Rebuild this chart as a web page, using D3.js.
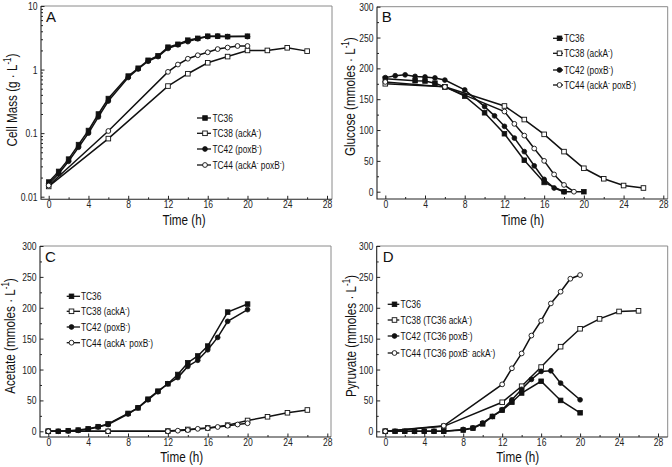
<!DOCTYPE html>
<html><head><meta charset="utf-8">
<script src="https://cdn.jsdelivr.net/npm/d3@7"></script>
<style>body{margin:0;background:#fff}svg{display:block;font-family:"Liberation Sans",Arial,Helvetica,sans-serif}</style>
</head><body><svg id="c" width="672" height="467"></svg>
<script>
// ---------- tick labels ----------
const xTickValues = [0,4,8,12,16,20,24,28];
const logTickValues = [0.01,0.1,1,10];
const logTickLabels = ["0.01","0.1","1","10"];
const linTickValues = [0,50,100,150,200,250,300];

// ---------- legends ----------
const legendShort = ["TC36","TC38 (ackA^-)","TC42 (poxB^-)","TC44 (ackA^- poxB^-)"];
const legendLong = ["TC36","TC38 (TC36 ackA^-)","TC42 (TC36 poxB^-)","TC44 (TC36 poxB^- ackA^-)"];

// ---------- Panel A: Cell mass (g/L) ----------
const tA36 = [0,1,2,3,4,5,6,8,9,10,11,12,13,14,15,16,17,18,20];
const vA36 = [0.017,0.025,0.039,0.066,0.11,0.2,0.35,0.79,1.05,1.4,1.65,2.25,2.5,2.9,3.1,3.35,3.35,3.3,3.35];
const tA42 = [0,1,2,3,4,5,6,8,9,10,11,12,13,14,15,16,17,18,20];
const vA42 = [0.016,0.023,0.036,0.06,0.1,0.18,0.32,0.75,1.02,1.35,1.6,2.15,2.45,2.75,3.05,3.3,3.35,3.3,3.3];
const tA38 = [0,6,12,14,16,18,20,22,24,26];
const vA38 = [0.0145,0.082,0.55,0.86,1.28,1.6,2.0,2.0,2.2,1.95];
const tA44 = [0,6,12,13,14,15,16,17,18,19,20];
const vA44 = [0.015,0.108,0.92,1.2,1.48,1.68,1.87,2.1,2.22,2.35,2.35];

// ---------- Panel B: Glucose ----------
const tB36 = [0,3,4,5,6,8,10,12,14,16,18,20];
const vB36 = [183,180,179.5,176,170,155,128,94,51,15,0,0];
const tB42 = [0,1,2,3,4,5,6,8,10,11,12,13,14,15,16,17,18];
const vB42 = [185,188,189.5,187,186,184.5,181,165,138,123,106,87,65,42,20,6,0];
const tB38 = [0,6,12,14,16,18,20,22,24,26];
const vB38 = [175,170,139,117,93,65,38,21,10,6];
const tB44 = [0,6,12,13,14,15,16,17,18,19];
const vB44 = [178,170,130,110,91,70,50,28,11,0];

// ---------- Panel C: Acetate ----------
const tC36 = [0,1,2,3,4,5,6,8,9,10,11,12,13,14,15,16,18,20];
const vC36 = [0,0,1,2,4,7.5,12,29,38,52,65,77,92,111,122,138,193,206];
const tC42 = [0,1,2,3,4,5,6,8,9,10,11,12,13,14,15,16,17,18,20];
const vC42 = [0,0,0.5,1.5,3.5,7,11,28,38,51,64,77,87,105,115,132,152,178,197];
const tC38 = [0,6,12,14,16,18,20,22,24,26];
const vC38 = [0,0,0.5,3,5.5,10,17.5,23.5,30,34.5];
const tC44 = [0,6,12,13,14,15,16,17,18,19,20];
const vC44 = [0,0,0,1,2,4,5,7,9,11,13];

// ---------- Panel D: Pyruvate ----------
const tD36 = [0,1,2,3,4,5,6,8,9,10,11,12,13,14,16,18,20];
const vD36 = [0,0,0,0,0,0,0,2,5,12,24,34,47,62,81,50,30];
const tD42 = [0,1,2,3,4,5,6,8,9,10,11,12,13,14,15,16,17,18,20];
const vD42 = [0,0,0,0,0,0,0,3,5.5,13.5,24,35,51,68,84,97,98,78,51];
const tD38 = [0,6,12,14,16,18,20,22,24,26];
const vD38 = [0,8,47,73,104,137,166,182,194,195];
const tD44 = [0,6,12,13,14,15,16,17,18,19,20];
const vD44 = [0,9,76,102,126,155,179,207,226,247,253];

const zip = (t,v) => t.map((d,i)=>({t:d,v:v[i]}));
const styles = {TC36:{fill:true,shape:"square"},TC38:{fill:false,shape:"square"},TC42:{fill:true,shape:"circle"},TC44:{fill:false,shape:"circle"}};
const order = ["TC36","TC38","TC42","TC44"];

const FONT_K = 0.78;
const svg = d3.select("#c");

function squeeze(sel,k){
  sel.each(function(){
    const s = d3.select(this);
    const x = +s.attr("x")||0, y = +s.attr("y")||0;
    s.attr("x",0).attr("y",0).attr("transform",`translate(${x},${y}) scale(${k},1)`);
  });
}
function rich(textSel,str,fs){
  const parts = str.split(/(\^-1|\^-)/);
  let up=false;
  parts.forEach(p=>{
    if(!p) return;
    if(p==="^-1"||p==="^-"){
      textSel.append("tspan").attr("font-size",fs*0.68).attr("dy",-fs*0.38).text(p.slice(1));
      up=true;
    } else {
      const ts = textSel.append("tspan").text(p);
      if(up){ts.attr("dy",fs*0.38);up=false;}
    }
  });
}

const panels = [
 {label:"A",lx:46,ly:21.7,fx0:41,fx1:332,fy0:6,fy1:199.3,xr:[48.7,327],log:true,yd:[0.01,10],yr:[196.7,6],
  title:"Cell Mass (g · L^-1)",tx:17,ty:100,xtx:184,xty:224.5,
  leg:{x0:197,x1:211,mx:205,tx:212.5,ys:[118,133.3,149,165],labels:legendShort},
  data:{TC36:zip(tA36,vA36),TC38:zip(tA38,vA38),TC42:zip(tA42,vA42),TC44:zip(tA44,vA44)}},
 {label:"B",lx:381.7,ly:21.7,fx0:377,fx1:667.7,fy0:6.7,fy1:199,xr:[385.3,663.3],log:false,yd:[0,300],yr:[191.7,6.7],
  title:"Glucose (mmoles · L^-1)",tx:355,ty:96.7,xtx:522.7,xty:224.5,
  leg:{x0:553,x1:563,mx:559.5,tx:564,ys:[38.3,53.3,70,85],labels:legendShort},
  data:{TC36:zip(tB36,vB36),TC38:zip(tB38,vB38),TC42:zip(tB42,vB42),TC44:zip(tB44,vB44)}},
 {label:"C",lx:45,ly:262.3,fx0:40,fx1:331,fy0:246,fy1:437,xr:[48.3,327.3],log:false,yd:[0,300],yr:[431.3,246],
  title:"Acetate (mmoles · L^-1)",tx:15,ty:336,xtx:181.7,xty:462,
  leg:{x0:66.7,x1:80,mx:71.5,tx:81,ys:[296.3,311.3,327,342.7],labels:legendShort},
  data:{TC36:zip(tC36,vC36),TC38:zip(tC38,vC38),TC42:zip(tC42,vC42),TC44:zip(tC44,vC44)}},
 {label:"D",lx:382.7,ly:262.3,fx0:376.7,fx1:667.7,fy0:246,fy1:437,xr:[385.3,658],log:false,yd:[0,300],yr:[431.3,246],
  title:"Pyruvate (mmoles · L^-1)",tx:355.5,ty:336,xtx:517.7,xty:462,
  leg:{x0:387.7,x1:399.3,mx:394.5,tx:400.5,ys:[304.3,320,336,353],labels:legendLong},
  data:{TC36:zip(tD36,vD36),TC38:zip(tD38,vD38),TC42:zip(tD42,vD42),TC44:zip(tD44,vD44)}}
];

function marker(g,shape,filled,x,y){
  if(shape==="square"){
    g.append("rect").attr("x",x-2.3).attr("y",y-2.3).attr("width",4.6).attr("height",4.6)
     .attr("fill",filled?"#111":"#fff").attr("stroke","#111").attr("stroke-width",filled?0.8:0.9);
  } else {
    g.append("circle").attr("cx",x).attr("cy",y).attr("r",2.4)
     .attr("fill",filled?"#111":"#fff").attr("stroke","#111").attr("stroke-width",filled?0.8:0.9);
  }
}

panels.forEach(p=>{
  const g = svg.append("g");
  const x = d3.scaleLinear().domain([0,28]).range(p.xr);
  const y = p.log ? d3.scaleLog().domain(p.yd).range(p.yr) : d3.scaleLinear().domain(p.yd).range(p.yr);

  g.append("path").attr("d",`M${p.fx0},${p.fy0}H${p.fx1}V${p.fy1}`).attr("fill","none").attr("stroke","#8a8a8a").attr("stroke-width",1);

  const yMinor = [];
  if(p.log){ [0.01,0.1,1].forEach(d=>{for(let i=2;i<=9;i++) yMinor.push(d*i);}); }
  else { for(let v=25; v<300; v+=50) yMinor.push(v); }
  const xMinor = [2,6,10,14,18,22,26];

  const gx = g.append("g").attr("transform",`translate(0,${p.fy1})`)
    .call(d3.axisBottom(x).tickValues(xTickValues).tickSizeInner(-3.5).tickSizeOuter(0).tickPadding(1.2).tickFormat(d3.format("d")));
  const gxm = g.append("g").attr("transform",`translate(0,${p.fy1})`)
    .call(d3.axisBottom(x).tickValues(xMinor).tickSizeInner(-2).tickSizeOuter(0).tickFormat(""));
  const yAxis = p.log ? d3.axisLeft(y).tickValues(logTickValues).tickFormat((d,i)=>logTickLabels[i])
                      : d3.axisLeft(y).tickValues(linTickValues).tickFormat(d3.format("d"));
  const gy = g.append("g").attr("transform",`translate(${p.fx0},0)`).call(yAxis.tickSizeInner(-3.5).tickSizeOuter(0).tickPadding(3.5));
  const gym = g.append("g").attr("transform",`translate(${p.fx0},0)`).call(d3.axisLeft(y).tickValues(yMinor).tickSizeInner(-2).tickSizeOuter(0).tickFormat(""));
  [gx,gxm,gy,gym].forEach(a=>{
    a.select(".domain").remove();
    a.selectAll("line").attr("stroke","#222");
    a.selectAll("text").attr("font-size",11).attr("fill","#222").attr("font-family",null);
  });
  squeeze(gx.selectAll("text"),FONT_K);
  squeeze(gy.selectAll("text"),FONT_K);

  g.append("path").attr("d",`M${p.fx0},${p.fy0}V${p.fy1}H${p.fx1}`).attr("fill","none").attr("stroke","#222").attr("stroke-width",1.1);

  const line = d3.line().x(d=>x(d.t)).y(d=>y(d.v));
  order.forEach(name=>{
    g.append("path").attr("d",line(p.data[name])).attr("fill","none").attr("stroke","#111").attr("stroke-width",1.5);
  });
  order.forEach(name=>{
    const st = styles[name];
    const mg = g.append("g");
    p.data[name].forEach(d=>marker(mg,st.shape,st.fill,x(d.t),y(d.v)));
  });

  order.forEach((name,i)=>{
    const ly = p.leg.ys[i];
    g.append("line").attr("x1",p.leg.x0).attr("x2",p.leg.x1).attr("y1",ly).attr("y2",ly).attr("stroke","#111").attr("stroke-width",1.3);
    marker(g,styles[name].shape,styles[name].fill,p.leg.mx,ly);
    const t = g.append("text").attr("font-size",11).attr("fill","#111")
      .attr("transform",`translate(${p.leg.tx},${ly+4}) scale(0.76,1)`);
    rich(t,p.leg.labels[i],11);
  });

  g.append("text").attr("x",p.lx).attr("y",p.ly).attr("font-size",15).attr("fill","#111").text(p.label);

  g.append("text").attr("text-anchor","middle").attr("font-size",15).attr("fill","#111")
    .attr("transform",`translate(${p.xtx},${p.xty}) scale(${FONT_K},1)`).text("Time (h)");
  const yt = g.append("text").attr("text-anchor","middle").attr("font-size",15).attr("fill","#111")
    .attr("transform",`translate(${p.tx},${p.ty}) rotate(-90) scale(${FONT_K},1)`);
  rich(yt,p.title,15);
});
</script></body></html>
